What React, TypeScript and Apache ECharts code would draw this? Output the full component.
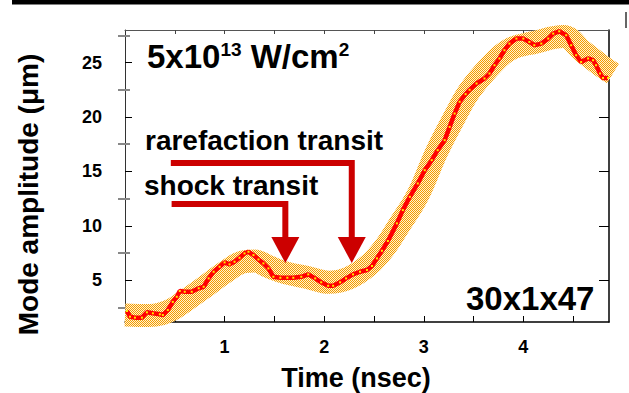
import React, { useEffect, useRef } from 'react';
import * as echarts from 'echarts';

// Red measured trace: [time (nsec), mode amplitude (µm)]
const redLine: [number, number][] = [
  [0.02, 2.16], [0.05, 1.64], [0.10, 1.55], [0.17, 1.55], [0.22, 2.04], [0.28, 1.95],
  [0.35, 1.86], [0.38, 1.79], [0.43, 2.25], [0.48, 3.0], [0.52, 3.47], [0.55, 4.0],
  [0.60, 3.93], [0.67, 3.93], [0.74, 4.25], [0.79, 4.39], [0.84, 5.16], [0.89, 5.77],
  [0.95, 6.23], [1.00, 6.63], [1.05, 6.45], [1.10, 6.69], [1.15, 7.06], [1.20, 7.46],
  [1.24, 7.61], [1.29, 7.3], [1.34, 6.9], [1.39, 6.54], [1.44, 6.08], [1.49, 5.31],
  [1.56, 5.22], [1.63, 5.22], [1.69, 5.22], [1.77, 5.31], [1.84, 5.53], [1.91, 5.16],
  [1.97, 4.8], [2.04, 4.48], [2.09, 4.48], [2.16, 4.8], [2.22, 5.16], [2.29, 5.53],
  [2.36, 5.77], [2.43, 5.93], [2.48, 6.3], [2.53, 7.0], [2.58, 7.7], [2.64, 8.6],
  [2.73, 10.22], [2.79, 11.44], [2.86, 12.66], [2.94, 13.89], [3.01, 15.11], [3.08, 16.03],
  [3.14, 16.95], [3.21, 17.87], [3.26, 19.09], [3.31, 20.32], [3.36, 21.4], [3.42, 22.1],
  [3.46, 22.5], [3.53, 23.08], [3.61, 23.54], [3.66, 24.0], [3.71, 24.76], [3.76, 25.38],
  [3.81, 26.14], [3.86, 26.75], [3.93, 27.21], [4.00, 27.21], [4.06, 26.9], [4.11, 26.6],
  [4.18, 26.75], [4.25, 27.21], [4.30, 27.67], [4.36, 27.88], [4.43, 27.52], [4.48, 26.6],
  [4.53, 25.68], [4.58, 25.06], [4.65, 25.38], [4.70, 25.22], [4.73, 24.76], [4.77, 24.0],
  [4.80, 23.59], [4.85, 23.59],
];

// Centre of the orange error band
const bandLine: [number, number][] = [
  [0.0, 1.8], [0.25, 1.75], [0.45, 2.2], [0.62, 3.2], [0.82, 4.5], [1.0, 5.7],
  [1.2, 6.7], [1.3, 6.75], [1.45, 6.2], [1.6, 5.7], [1.85, 5.2], [2.05, 4.8],
  [2.25, 5.2], [2.45, 6.4], [2.6, 7.9], [2.75, 10.0], [2.94, 12.8], [3.13, 16.8],
  [3.31, 20.0], [3.46, 22.4], [3.66, 24.6], [3.86, 26.2], [4.13, 26.9], [4.4, 27.4],
  [4.6, 26.0], [4.8, 24.6], [4.9, 24.0],
];

const xTicks = [0.5, 1, 1.5, 2, 2.5, 3, 3.5, 4, 4.5];
const xLabels = [1, 2, 3, 4];
const yMajor = [5, 10, 15, 20, 25];
const yMinor = [2.5, 7.5, 12.5, 17.5, 22.5, 27.5];
const xRange = [0, 4.86];
const yRange = [1.15, 28];

// Arrow annotations in data units
const arrows = [
  { startX: 0.468, lineY: 11.99, tipX: 1.61, baseY: 8.96, tipY: 6.57 },
  { startX: 0.46, lineY: 15.76, tipX: 2.277, baseY: 8.96, tipY: 6.57 },
];

const FONT = '"Liberation Sans", Arial, Helvetica, sans-serif';

function makePattern() {
  const c = document.createElement('canvas');
  c.width = 2;
  c.height = 2;
  const ctx = c.getContext('2d')!;
  ctx.fillStyle = '#fff3d0';
  ctx.fillRect(0, 0, 2, 2);
  ctx.fillStyle = '#f59a00';
  ctx.fillRect(0, 0, 1, 1);
  ctx.fillRect(1, 1, 1, 1);
  return { image: c, repeat: 'repeat' };
}

export default function App() {
  const ref = useRef<HTMLDivElement>(null);
  useEffect(() => {
    if (!ref.current) return;
    const chart = echarts.init(ref.current, null, { renderer: 'svg' });
    const tickLabel = { fontSize: 18, fontWeight: 'bold', color: '#000', fontFamily: FONT };
    const option: any = {
      animation: false,
      backgroundColor: '#fff',
      textStyle: { fontFamily: FONT },
      grid: { left: 125, right: 20, top: 30, bottom: 71 },
      xAxis: [
        {
          type: 'value', position: 'bottom', min: xRange[0], max: xRange[1],
          splitLine: { show: false },
          axisLine: { show: true, onZero: false, lineStyle: { color: '#000', width: 1.5 } },
          axisTick: { show: true, inside: true, length: 6, customValues: xTicks, lineStyle: { color: '#000' } },
          axisLabel: { ...tickLabel, customValues: xLabels, margin: 16 },
        },
        {
          type: 'value', position: 'top', min: xRange[0], max: xRange[1],
          splitLine: { show: false },
          axisLine: { show: true, onZero: false, lineStyle: { color: '#555', width: 1 } },
          axisTick: { show: true, inside: true, length: 4, customValues: xTicks, lineStyle: { color: '#444' } },
          axisLabel: { show: false },
        },
      ],
      yAxis: [
        {
          type: 'value', position: 'left', min: yRange[0], max: yRange[1],
          splitLine: { show: false },
          axisLine: { show: true, onZero: false, lineStyle: { color: '#333', width: 1 } },
          axisTick: { show: true, inside: true, length: 7, customValues: yMajor, lineStyle: { color: '#000' } },
          axisLabel: { ...tickLabel, customValues: yMajor, margin: 23 },
        },
        {
          type: 'value', position: 'left', min: yRange[0], max: yRange[1],
          splitLine: { show: false },
          axisLine: { show: false },
          axisTick: { show: true, inside: true, length: 5, customValues: yMinor, lineStyle: { color: '#888', width: 2 } },
          axisLabel: { show: false },
        },
        {
          type: 'value', position: 'right', min: yRange[0], max: yRange[1],
          splitLine: { show: false },
          axisLine: { show: true, onZero: false, lineStyle: { color: '#000', width: 1.5 } },
          axisTick: { show: true, inside: true, length: 10, customValues: yMajor, lineStyle: { color: '#000' } },
          axisLabel: { show: false },
        },
        {
          type: 'value', position: 'right', min: yRange[0], max: yRange[1],
          splitLine: { show: false },
          axisLine: { show: false },
          axisTick: { show: true, inside: true, length: 7, customValues: yMinor, lineStyle: { color: '#888', width: 2 } },
          axisLabel: { show: false },
        },
      ],
      series: [
        {
          type: 'line', xAxisIndex: 0, yAxisIndex: 0, data: bandLine, smooth: 0.4,
          symbol: 'none', silent: true, z: 1,
          lineStyle: { width: 23, color: makePattern() as any },
        },
        {
          type: 'line', xAxisIndex: 0, yAxisIndex: 0, data: redLine, smooth: false,
          symbol: 'rect', symbolSize: 2, showSymbol: true, z: 3,
          itemStyle: { color: '#ffe600' },
          lineStyle: { color: '#ff0000', width: 4.5 },
        },
      ],
    };
    chart.setOption(option);

    const px = (x: number, y: number) =>
      chart.convertToPixel({ xAxisIndex: 0, yAxisIndex: 0 } as any, [x, y]) as number[];
    const RED = '#cc0000';
    const arrowEls: any[] = [];
    arrows.forEach((a) => {
      const s = px(a.startX, a.lineY);
      const c = px(a.tipX, a.lineY);
      const b = px(a.tipX, a.baseY);
      const t = px(a.tipX, a.tipY);
      arrowEls.push({
        type: 'polyline', z: 100,
        shape: { points: [[s[0], s[1]], [c[0], c[1]], [b[0], b[1] + 1]] },
        style: { stroke: RED, lineWidth: 6, fill: null, lineJoin: 'miter' },
      });
      arrowEls.push({
        type: 'polygon', z: 100,
        shape: { points: [[b[0] - 14, b[1]], [b[0] + 14, b[1]], [t[0], t[1]]] },
        style: { fill: RED },
      });
    });

    const txt = (text: string, x: number, y: number, size: number, align = 'left', rotation = 0, rich?: any) => ({
      type: 'text', x, y, rotation, z: 110,
      style: {
        text, fill: '#000', fontSize: size, fontWeight: 'bold', fontFamily: FONT,
        align, verticalAlign: 'middle', ...(rich ? { rich } : {}),
      },
    });

    const supRich = {
      sup: { fontSize: 19, fontWeight: 'bold', fontFamily: FONT, fill: '#000', verticalAlign: 'top' },
    };

    chart.setOption({
      graphic: [
        { type: 'rect', shape: { x: 12, y: 0, width: 617, height: 4.5 }, style: { fill: '#000' }, z: 120 },
        { type: 'line', shape: { x1: 626, y1: 12, x2: 626, y2: 28 }, style: { stroke: '#666', lineWidth: 2 }, z: 120 },
        ...arrowEls,
        txt('5x10{sup|13} W/cm{sup|2}', 147, 56.6, 33, 'left', 0, supRich),
        txt('30x1x47', 466, 298.6, 33),
        txt('rarefaction transit', 145, 140.3, 28),
        txt('shock transit', 144, 185.3, 28),
        txt('Time (nsec)', 356, 377.7, 27, 'center'),
        txt('Mode amplitude (μm)', 28.3, 194.5, 28, 'center', Math.PI / 2),
      ],
    });

    return () => chart.dispose();
  }, []);
  return (
    <div
      ref={ref}
      style={{ position: 'absolute', left: 0, top: 0, width: 629, height: 393, background: '#fff' }}
    />
  );
}
